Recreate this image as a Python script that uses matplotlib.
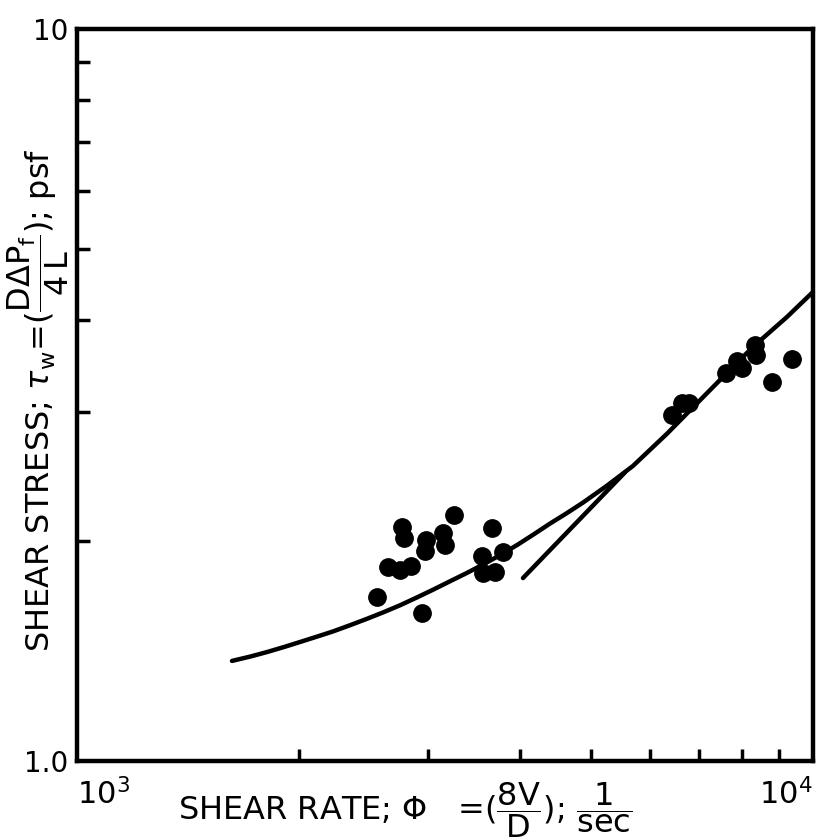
import matplotlib
matplotlib.use("Agg")
import matplotlib.pyplot as plt
import numpy as np

# ---- data ----
pts_low_x = [3252, 2764, 2781, 2980, 2971, 3144, 3162, 3664, 2646, 2747, 2843, 3550, 3792, 3561, 3699, 2556, 2943]
pts_low_y = [2.168, 2.087, 2.017, 2.004, 1.936, 2.049, 1.973, 2.081, 1.841, 1.824, 1.846, 1.905, 1.930, 1.806, 1.812, 1.675, 1.593]
pts_high_x = [6434, 6637, 6784, 7617, 7883, 8008, 8339, 8365, 8797, 9365]
pts_high_y = [2.970, 3.084, 3.084, 3.389, 3.519, 3.443, 3.701, 3.586, 3.294, 3.541]

curve_x = [1624, 1720, 1813, 1910, 2009, 2115, 2227, 2350, 2477, 2610, 2747, 2897, 3050, 3212, 3380, 3561, 3760, 3970, 4180,
           4391, 4620, 4869, 5250, 5694, 6334, 6744, 7475, 8286, 9220, 10000]
curve_y = [1.370, 1.389, 1.409, 1.431, 1.454, 1.478, 1.503, 1.533, 1.564, 1.597, 1.632, 1.673, 1.715, 1.760, 1.805, 1.855,
           1.912, 1.975, 2.042, 2.110, 2.178, 2.254, 2.378, 2.530, 2.800, 2.985, 3.315, 3.678, 4.043, 4.373]

line_x = [4036, 5555]
line_y = [1.778, 2.48]

x_ticklabels = [r'$10^3$', r'$10^4$']
y_ticklabels = ['1.0', '10']

plt.rcParams['mathtext.fontset'] = 'dejavusans'
plt.rcParams['font.family'] = ['DejaVu Sans']

fig = plt.figure(figsize=(8.19, 8.40), dpi=100)
ax = fig.add_axes([77/819, 1-761/840, (813-77)/819, (761-29)/840])

ax.plot(curve_x, curve_y, color='black', lw=3.2, solid_capstyle='round', solid_joinstyle='round')
ax.plot(line_x, line_y, color='black', lw=3.2, solid_capstyle='round')
ax.plot(pts_low_x + pts_high_x, pts_low_y + pts_high_y, 'o', color='black', ms=12.5, mec='black')

ax.set_xscale('log')
ax.set_yscale('log')
ax.set_xlim(1e3, 1e4)
ax.set_ylim(1.0, 10.0)

for s in ax.spines.values():
    s.set_linewidth(3.2)

ax.set_xticks([1e3, 1e4])
ax.set_xticklabels(x_ticklabels, fontsize=22)
ax.set_yticks([1.0, 10.0])
ax.set_yticklabels(y_ticklabels, fontsize=20)
ax.xaxis.set_minor_locator(matplotlib.ticker.LogLocator(base=10, subs=np.arange(2, 10)))
ax.yaxis.set_minor_locator(matplotlib.ticker.LogLocator(base=10, subs=np.arange(2, 10)))
ax.xaxis.set_minor_formatter(matplotlib.ticker.NullFormatter())
ax.yaxis.set_minor_formatter(matplotlib.ticker.NullFormatter())
ax.tick_params(which='major', length=0, pad=6)
ax.tick_params(axis='x', which='major', pad=12)
ax.tick_params(which='minor', direction='in', length=9, width=2.5)
lbls = ax.get_xticklabels()
lbls[0].set_ha('left')
lbls[1].set_ha('right')

fig.text(405/819, 1-810/840, r'SHEAR RATE; $\Phi$   =($\dfrac{\mathrm{8V}}{\mathrm{D}}$); $\dfrac{\mathrm{1}}{\mathrm{sec}}$',
         ha='center', va='center', fontsize=23)
fig.text(38/819, 1-400/840, r'SHEAR STRESS; $\tau_\mathrm{w}$=($\dfrac{\mathrm{D\Delta P_f}}{\mathrm{4\,L}}$); psf',
         ha='center', va='center', rotation=90, fontsize=23)

fig.savefig('out.png', dpi=100, facecolor='white')
